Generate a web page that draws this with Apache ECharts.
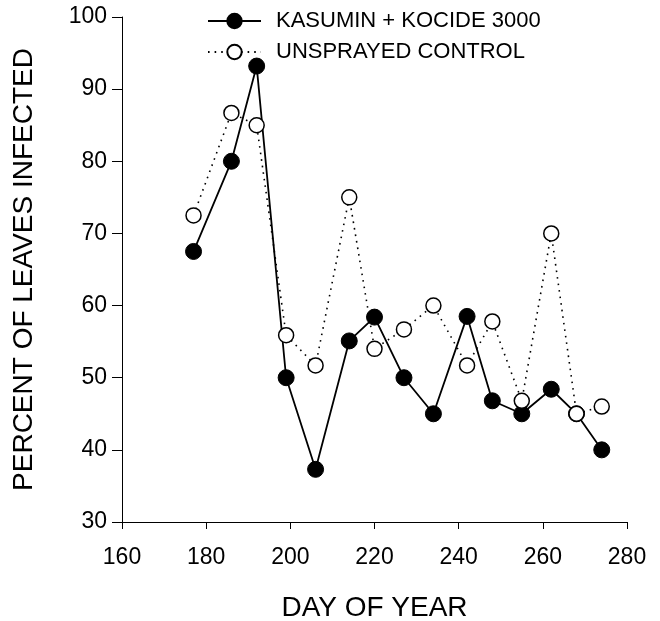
<!DOCTYPE html>
<html>
<head>
<meta charset="utf-8">
<script src="https://cdn.jsdelivr.net/npm/echarts@6/dist/echarts.min.js"></script>
<style>
  html, body { margin: 0; padding: 0; background: #fff; }
  #chart { width: 660px; height: 621px; }
</style>
</head>
<body>
<div id="chart"></div>
<script>
// day of year for each sampling date
const days = [177, 186, 192, 199, 206, 214, 220, 227, 234, 242, 248, 255, 262, 268, 274]
// percent of leaves infected
const kasumin = [67.5, 80, 93.2, 50, 37.3, 55.1, 58.4, 50, 45, 58.5, 46.8, 45, 48.4, 45, 40]
const control = [72.5, 86.7, 85, 55.9, 51.7, 75, 54, 56.7, 60, 51.7, 57.8, 46.8, 70, 45, 46]

const seriesNames = ['KASUMIN + KOCIDE 3000', 'UNSPRAYED CONTROL']

const font = '"Liberation Sans", Arial, sans-serif'

const chart = echarts.init(document.getElementById('chart'))

const pairs = (ys) => days.map((d, i) => [d, ys[i]])

chart.setOption({
  backgroundColor: '#fff',
  animation: false,
  textStyle: { fontFamily: font, color: '#000' },
  grid: { left: 122, right: 33, top: 17, bottom: 99, outerBoundsMode: 'none' },
  legend: {
    orient: 'vertical',
    left: 202,
    top: 5,
    itemWidth: 53,
    itemHeight: 18,
    itemGap: 9,
    data: seriesNames,
    textStyle: { fontFamily: font, fontSize: 22, color: '#000', padding: [0, 0, 0, 10] },
  },
  xAxis: {
    type: 'value',
    min: 160,
    max: 280,
    interval: 20,
    name: 'DAY OF YEAR',
    nameLocation: 'middle',
    nameGap: 72,
    nameTextStyle: { fontFamily: font, fontSize: 28, color: '#000' },
    axisLine: { onZero: false, lineStyle: { color: '#000', width: 1 } },
    axisTick: { length: 7, lineStyle: { color: '#000' } },
    axisLabel: { fontFamily: font, fontSize: 23, color: '#000', margin: 24 },
    splitLine: { show: false },
  },
  yAxis: {
    type: 'value',
    min: 30,
    max: 100,
    interval: 10,
    name: 'PERCENT OF LEAVES INFECTED',
    nameLocation: 'middle',
    nameGap: 84,
    nameTextStyle: { fontFamily: font, fontSize: 28, color: '#000' },
    axisLine: { show: true, onZero: false, lineStyle: { color: '#000', width: 1 } },
    axisTick: { show: true, length: 10, lineStyle: { color: '#000' } },
    axisLabel: { fontFamily: font, fontSize: 23, color: '#000', margin: 15 },
    splitLine: { show: false },
  },
  series: [
    {
      name: seriesNames[0],
      type: 'line',
      data: pairs(kasumin),
      symbol: 'circle',
      symbolSize: 16,
      lineStyle: { color: '#000', width: 1.8 },
      itemStyle: { color: '#000', borderColor: '#000', borderWidth: 1 },
      z: 2,
    },
    {
      name: seriesNames[1],
      type: 'line',
      data: pairs(control),
      symbol: 'circle',
      symbolSize: 15,
      lineStyle: { color: '#000', width: 1.6, type: [1.6, 5] },
      itemStyle: { color: '#fff', borderColor: '#000', borderWidth: 1.5 },
      z: 3,
    },
  ],
})
</script>
</body>
</html>
